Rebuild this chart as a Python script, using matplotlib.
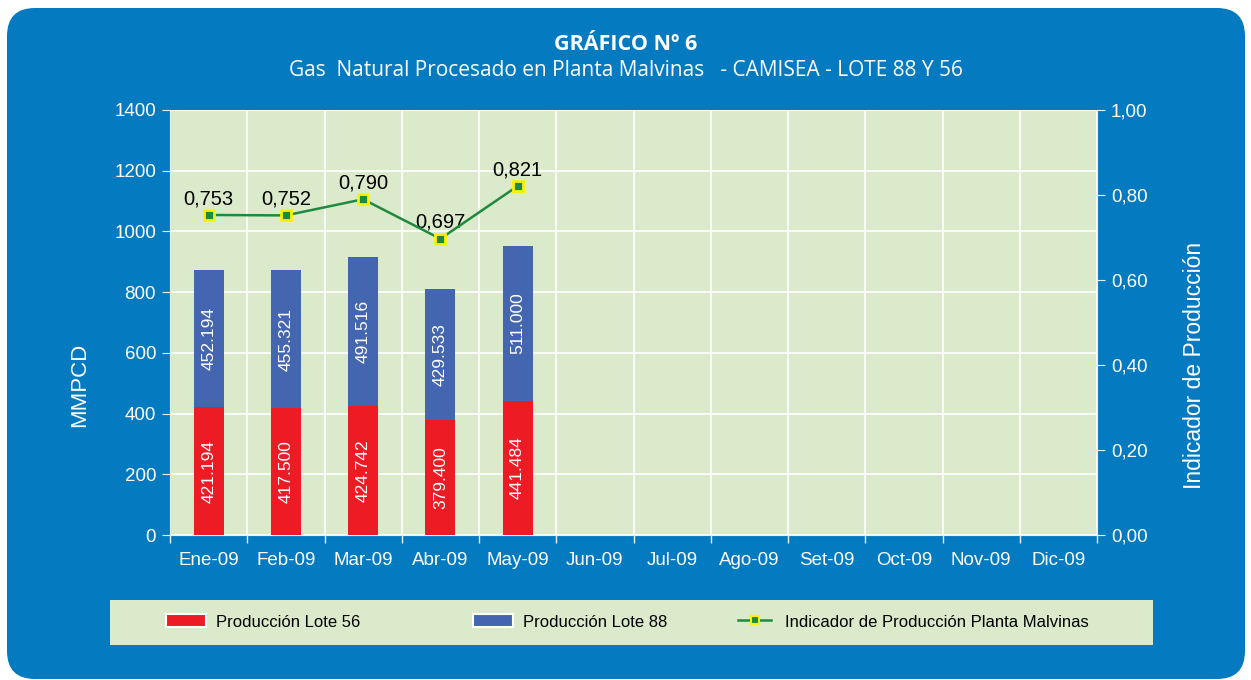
import matplotlib
matplotlib.use("Agg")
import matplotlib.pyplot as plt
import numpy as np
from matplotlib.patches import FancyBboxPatch, Rectangle
from matplotlib.lines import Line2D
from matplotlib.patches import Patch

months = ["Ene-09", "Feb-09", "Mar-09", "Abr-09", "May-09", "Jun-09",
          "Jul-09", "Ago-09", "Set-09", "Oct-09", "Nov-09", "Dic-09"]
lote56 = [421.194, 417.500, 424.742, 379.400, 441.484]
lote88 = [452.194, 455.321, 491.516, 429.533, 511.000]
indicador = [0.753, 0.752, 0.790, 0.697, 0.821]
left_ticks = [0, 200, 400, 600, 800, 1000, 1200, 1400]
right_ticks = [0.0, 0.2, 0.4, 0.6, 0.8, 1.0]

BLUE_BG = "#047bc1"
PLOT_BG = "#dbeacb"
RED = "#ed1c24"
BLUE_BAR = "#4466b0"
GREEN = "#1e8a3e"
YELLOW = "#fff200"

plt.rcParams['font.family'] = ['Liberation Sans', 'DejaVu Sans']

fig = plt.figure(figsize=(12.51, 6.80), dpi=100)
fig.patch.set_facecolor("white")
box = FancyBboxPatch((7, 1), 1238, 671, boxstyle="round,pad=0,rounding_size=28",
                     transform=None, facecolor=BLUE_BG, edgecolor="none", zorder=-10)
fig.patches.append(box)

ax = fig.add_axes([170/1251, 1-535/680, (1097-170)/1251, (535-110)/680])
ax.set_facecolor(PLOT_BG)
x = np.arange(len(months))
n = len(lote56)
bw = 0.39
ax.bar(x[:n], lote56, width=bw, color=RED, zorder=3)
ax.bar(x[:n], lote88, width=bw, bottom=lote56, color=BLUE_BAR, zorder=3)
for i in range(n):
    ax.text(x[i], lote56[i]/2, f"{lote56[i]:.3f}", rotation=90, ha="center", va="center",
            color="white", fontsize=12.5, zorder=4)
    ax.text(x[i], lote56[i] + lote88[i]/2, f"{lote88[i]:.3f}", rotation=90, ha="center",
            va="center", color="white", fontsize=12.5, zorder=4)

ax.set_xlim(-0.5, len(months)-0.5)
ax.set_ylim(0, 1400)
ax.set_yticks(left_ticks)
ax.set_xticks(x)
ax.set_xticklabels(months)
ax.set_xticks(np.arange(-0.5, len(months), 1), minor=True)
ax.tick_params(axis="x", which="major", length=0, pad=12, colors="white", labelsize=13.5)
ax.tick_params(axis="x", which="minor", length=6, color="#e8f0f8", width=1)
ax.tick_params(axis="y", length=6, color="#e8f0f8", colors="white", labelsize=13.5, pad=4)
ax.grid(axis="y", color="white", linewidth=1.2, zorder=1)
ax.grid(axis="x", which="minor", color="white", linewidth=1.2, zorder=1)
ax.set_axisbelow(True)
for s in ["left", "bottom", "right"]:
    ax.spines[s].set_color("#e8f0f8")
ax.spines["top"].set_visible(False)
ax.set_ylabel("MMPCD", color="white", fontsize=16)
ax.yaxis.set_label_coords(-0.086, 0.353)

ax2 = ax.twinx()
ax2.set_ylim(0, 1.0)
ax2.set_yticks(right_ticks)
ax2.set_yticklabels([f"{v:.2f}".replace(".", ",") for v in right_ticks])
ax2.tick_params(axis="y", length=6, color="#e8f0f8", colors="white", labelsize=13.5, pad=4)
for s in ["left", "bottom", "right", "top"]:
    ax2.spines[s].set_visible(False)
ax2.plot(x[:n], indicador, color=GREEN, linewidth=1.8, marker="s", markersize=7,
         markerfacecolor=GREEN, markeredgecolor=YELLOW, markeredgewidth=2, zorder=5)
for i in range(n):
    ax2.annotate(f"{indicador[i]:.3f}".replace(".", ","), (x[i], indicador[i]),
                 xytext=(0, 5), textcoords="offset points", ha="center", va="bottom",
                 fontsize=14.5, color="black")
ax2.set_ylabel("Indicador de Producción", color="white", fontsize=16.5)
ax2.yaxis.set_label_coords(1.093, 0.40)

fig.text(0.5, 1-44/680, "GRÁFICO Nº 6", ha="center", va="center", color="white",
         fontsize=15.5, fontweight="bold", family=["Open Sans", "DejaVu Sans"])
fig.text(0.5, 1-70/680, "Gas  Natural Procesado en Planta Malvinas   - CAMISEA - LOTE 88 Y 56",
         ha="center", va="center", color="white", fontsize=15,
         family=["Open Sans", "DejaVu Sans"])

# legend
lx0, ly0, lw, lh = 110/1251, 1-645/680, (1153-110)/1251, 45/680
fig.patches.append(Rectangle((lx0, ly0), lw, lh, transform=fig.transFigure,
                             facecolor=PLOT_BG, edgecolor="none", zorder=-5))
handles = [Patch(facecolor=RED, edgecolor="white", linewidth=1.5),
           Patch(facecolor=BLUE_BAR, edgecolor="white", linewidth=1.5),
           Line2D([0], [0], color=GREEN, linewidth=1.8, marker="s", markersize=6,
                  markerfacecolor=GREEN, markeredgecolor=YELLOW, markeredgewidth=1.5)]
labels = ["Producción Lote 56", "Producción Lote 88",
          "Indicador de Producción Planta Malvinas"]
xpos = [151, 458, 723]
hl = [2.4, 2.4, 2.0]
tp = [0.6, 0.6, 0.8]
for h, l, xp, L, t in zip(handles, labels, xpos, hl, tp):
    lg = fig.legend([h], [l], loc="center left", bbox_to_anchor=(xp/1251, 1-622/680),
                    frameon=False, prop={"size": 12}, handlelength=L,
                    handleheight=0.8, handletextpad=t)

fig.savefig("out.png", dpi=100, facecolor="white")
